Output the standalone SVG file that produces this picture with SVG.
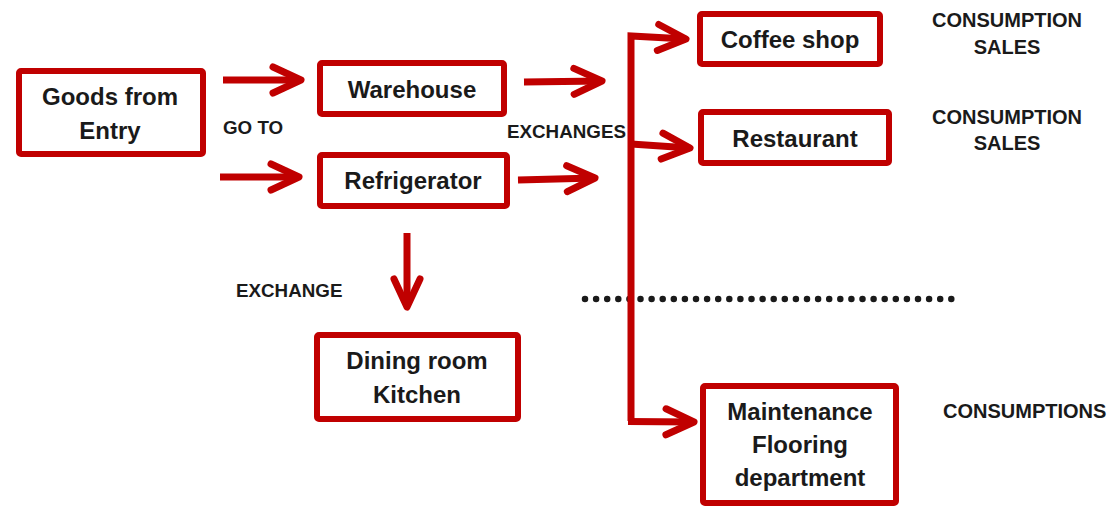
<svg xmlns="http://www.w3.org/2000/svg" width="1110" height="507" viewBox="0 0 1110 507">
<style>
.box{fill:#fff;stroke:#C00000;stroke-width:6}
.t{font-family:"Liberation Sans",Arial,sans-serif;font-weight:bold;font-size:24px;fill:#1a1a1a;text-anchor:middle}
.lbl{font-family:"Liberation Sans",Arial,sans-serif;font-weight:bold;font-size:18.8px;fill:#1a1a1a}
.big{font-size:20px}
.c{fill:none;stroke:#C00000;stroke-width:7;stroke-linejoin:miter}
.dots{fill:none;stroke:#1a1a1a;stroke-width:6.5;stroke-linecap:round;stroke-dasharray:0 11.1}
</style>
<defs>
<marker id="chev" markerUnits="userSpaceOnUse" markerWidth="50" markerHeight="50" viewBox="-40 -25 50 50" refX="0" refY="0" orient="auto" overflow="visible">
<path d="M-28,-13 L0,0 L-28,13" fill="none" stroke="#C00000" stroke-width="7" stroke-linecap="round" stroke-linejoin="round"/>
</marker>
</defs>
<rect width="1110" height="507" fill="#fff"/>

<g id="separator">
<line class="dots" x1="585" y1="299" x2="953" y2="299"/>
</g>

<g id="connectors">
<path class="c" d="M223,80 L301,80" marker-end="url(#chev)"/>
<path class="c" d="M220,177 L299,177" marker-end="url(#chev)"/>
<path class="c" d="M524,82 L602,81" marker-end="url(#chev)"/>
<path class="c" d="M518,180 L595,178" marker-end="url(#chev)"/>
<path class="c" d="M407,233 L407,307" marker-end="url(#chev)"/>
<path class="c" d="M631,421 L631,36 L686,39" marker-end="url(#chev)"/>
<path class="c" d="M631,144 L690,148" marker-end="url(#chev)"/>
<path class="c" d="M628,421.5 L694,422" marker-end="url(#chev)"/>
</g>

<g id="goods">
<rect class="box" x="19" y="71" width="184" height="83" rx="2"/>
<text class="t" x="110" y="105">Goods from</text>
<text class="t" x="110" y="139">Entry</text>
</g>
<g id="warehouse">
<rect class="box" x="320" y="63" width="184" height="51" rx="2"/>
<text class="t" x="412" y="98">Warehouse</text>
</g>
<g id="refrigerator">
<rect class="box" x="320" y="155" width="187" height="51" rx="2"/>
<text class="t" x="413" y="189">Refrigerator</text>
</g>
<g id="dining">
<rect class="box" x="317" y="335" width="201" height="84" rx="2"/>
<text class="t" x="417" y="369">Dining room</text>
<text class="t" x="417" y="403">Kitchen</text>
</g>
<g id="coffee">
<rect class="box" x="700" y="14" width="180" height="50" rx="2"/>
<text class="t" x="790" y="48">Coffee shop</text>
</g>
<g id="restaurant">
<rect class="box" x="701" y="112" width="188" height="51" rx="2"/>
<text class="t" x="795" y="147">Restaurant</text>
</g>
<g id="maintenance">
<rect class="box" x="703" y="386" width="193" height="117" rx="2"/>
<text class="t" x="800" y="420">Maintenance</text>
<text class="t" x="800" y="453">Flooring</text>
<text class="t" x="800" y="486">department</text>
</g>

<g id="labels">
<text class="lbl" x="223" y="134">GO TO</text>
<text class="lbl" x="507" y="138">EXCHANGES</text>
<text class="lbl" x="236" y="297">EXCHANGE</text>
<text class="lbl big" x="1007" y="27" text-anchor="middle">CONSUMPTION</text>
<text class="lbl big" x="1007" y="54" text-anchor="middle">SALES</text>
<text class="lbl big" x="1007" y="124" text-anchor="middle">CONSUMPTION</text>
<text class="lbl big" x="1007" y="150" text-anchor="middle">SALES</text>
<text class="lbl big" x="943" y="418">CONSUMPTIONS</text>
</g>
</svg>
